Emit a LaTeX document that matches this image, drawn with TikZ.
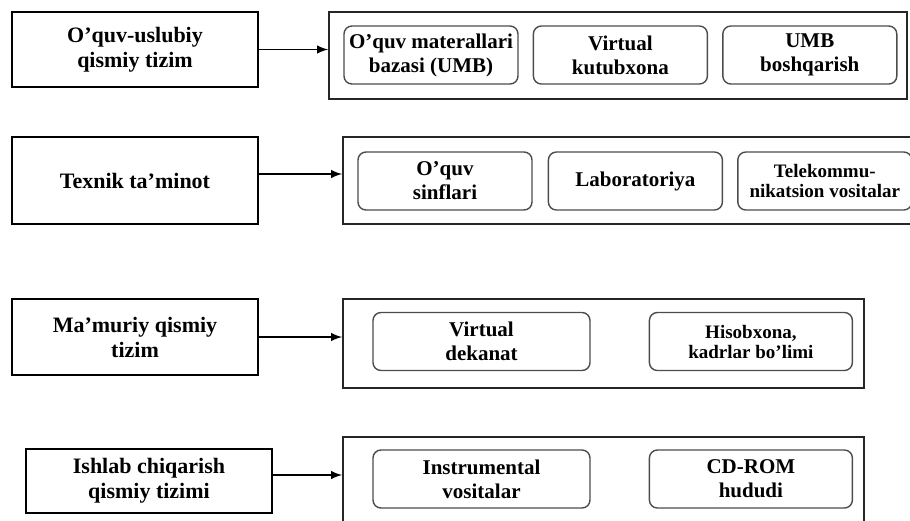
\documentclass[tikz,border=0pt]{standalone}
\usepackage{fontspec}
\setmainfont{Liberation Serif}
\usepackage{tikz}
\usetikzlibrary{arrows, positioning}

\begin{document}
\begin{tikzpicture}[
    x=1pt, y=1pt,
    subsys/.style={rectangle, draw, line width=0.9pt, minimum width=123pt, font=\fontsize{11}{12.5}\selectfont\bfseries, align=center},
    group/.style={rectangle, draw=black!85, line width=0.9pt},
    part/.style={rectangle, draw=black!70, rounded corners=4pt, line width=0.7pt, minimum width=87pt, minimum height=29pt, inner xsep=1pt, font=\fontsize{10.5}{12}\selectfont\bfseries, align=center},
    small/.style={font=\fontsize{9.5}{10}\selectfont\bfseries},
    arrow/.style={->, line width=0.9pt, >=latex}
]
\useasboundingbox (0,0) rectangle (455,-260);

% subsystems on the left
\node[subsys, minimum height=37.5pt] (usl) at (67.5,-24.75)  {O’quv-uslubiy\\qismiy tizim};
\node[subsys, minimum height=43.5pt] (tex) at (67.5,-90.25)  {Texnik ta’minot};
\node[subsys, minimum height=38pt]   (mam) at (67.5,-168.5)  {Ma’muriy qismiy\\tizim};
\node[subsys, minimum height=32pt]   (ish) at (74.5,-240.5)  {Ishlab chiqarish\\qismiy tizimi};

% frames holding the parts
\node[group, minimum width=289pt,   minimum height=43.5pt] (uslgrp) at (309,-27.75)    {};
\node[group, minimum width=285.5pt, minimum height=43.5pt] (texgrp) at (314.25,-90.25) {};
\node[group, minimum width=260.5pt, minimum height=44.5pt] (mamgrp) at (301.75,-171.75) {};
\node[group, minimum width=260.5pt, minimum height=44pt]   (ishgrp) at (301.75,-240.5) {};

% parts
\node[part] (umb) at (215.5,-27.5) {O’quv materallari\\bazasi (UMB)};
\node[part, right=7pt of umb]  (vkut) {Virtual\\kutubxona};
\node[part, right=7pt of vkut] (umbb) {UMB\\boshqarish};

\node[part] (sinf) at (222.5,-90.5) {O’quv\\sinflari};
\node[part, right=7.5pt of sinf]      (lab)  {Laboratoriya};
\node[part, small, right=7pt of lab]  (tele) {Telekommu-\\nikatsion vositalar};

\node[part, minimum width=108.5pt] (vdek) at (240.75,-170.75) {Virtual\\dekanat};
\node[part, small, minimum width=101.5pt, right=29pt of vdek] (hisob) {Hisobxona,\\kadrlar bo’limi};

\node[part, minimum width=108.5pt] (instr) at (240.75,-239.5) {Instrumental\\vositalar};
\node[part, minimum width=101.5pt, right=29pt of instr] (cdrom) {CD-ROM\\hududi};

\draw[arrow] (usl.east) -- (usl.east -| uslgrp.west);
\draw[arrow] ([yshift=3.25pt]tex.east) -- ([yshift=3.25pt]tex.east -| texgrp.west);
\draw[arrow] (mam.east) -- (mam.east -| mamgrp.west);
\draw[arrow] ([yshift=3pt]ish.east) -- ([yshift=3pt]ish.east -| ishgrp.west);

\end{tikzpicture}
\end{document}
